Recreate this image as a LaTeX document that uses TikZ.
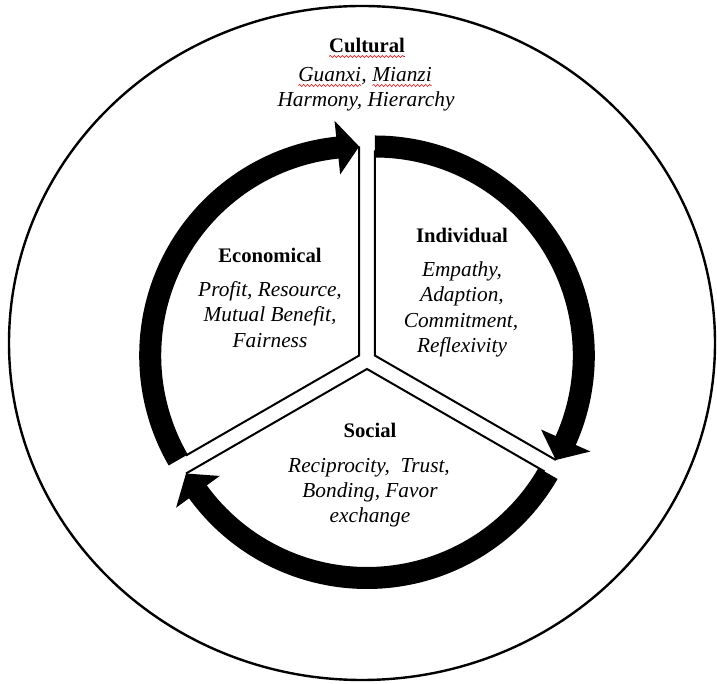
\documentclass[tikz,border=0pt]{standalone}
\usepackage{fontspec}
\setmainfont{Liberation Serif}
\usetikzlibrary{decorations.pathmorphing}
\tikzset{
  band/.style={fill=black,draw=none},
  edgeline/.style={draw=black,line width=1.5pt,line join=miter},
  ring/.style={draw=black,line width=1.8pt},
  headtext/.style={font=\fontsize{15.5}{18}\selectfont\bfseries,inner sep=0pt,anchor=base},
  itemtext/.style={font=\fontsize{16}{19}\selectfont\itshape,inner sep=0pt,anchor=base},
  squig/.style={draw={rgb,255:red,220;green,40;blue,40},line width=0.5pt,decorate,
    decoration={snake,amplitude=0.8pt,segment length=3pt}}
}
\newcommand\spellmark[1]{\tikz[baseline=(sw.base)]{\node[inner sep=0pt,outer sep=0pt](sw){#1};\draw[squig]([yshift=-2.6pt]sw.base west)--([yshift=-2.6pt]sw.base east);}}
\begin{document}
\begin{tikzpicture}[x=0.75pt,y=0.75pt]
\useasboundingbox (0,0) rectangle (717,684);
% outer ring
\draw[ring] (362,341) ellipse[x radius=353,y radius=337];

% Economical segment
\begin{scope}[shift={(359.2,328.5)}]
  \fill[band] (210:220) arc[start angle=210,end angle=96,radius=220] -- (96:236) -- (90:209)
     -- (96:182) -- (96:198) arc[start angle=96,end angle=210,radius=198] -- cycle;
  \draw[edgeline] (90:209) -- (0,0) -- (210:200);
\end{scope}

% Individual segment
\begin{scope}[shift={(374.8,328.5)}]
  \fill[band] (90:220) arc[start angle=90,end angle=-24,radius=220] -- (-24:236) -- (-30:209)
     -- (-24:182) -- (-24:198) arc[start angle=-24,end angle=90,radius=198] -- cycle;
  \draw[edgeline] (90:205) -- (0,0) -- (-30:209);
\end{scope}

% Social segment
\begin{scope}[shift={(367,315)}]
  \fill[band] (330:220) arc[start angle=330,end angle=216,radius=220] -- (216:236) -- (210:209)
     -- (216:182) -- (216:198) arc[start angle=216,end angle=330,radius=198] -- cycle;
  \draw[edgeline] (330:205) -- (0,0) -- (210:209);
\end{scope}

% Cultural
\node[headtext] (cult) at (367,631) {\spellmark{Cultural}};
\node[itemtext] (cult1) at (365,602) {\spellmark{Guanxi}, \spellmark{Mianzi}};
\node[itemtext] (cult2) at (366,577) {Harmony, Hierarchy};

% Economical
\node[headtext] (econ) at (270,421) {Economical};
\node[itemtext] (econ1) at (270,387) {Profit, Resource,};
\node[itemtext] (econ2) at (270,362) {Mutual Benefit,};
\node[itemtext] (econ3) at (270,336) {Fairness};

% Individual
\node[headtext] (indi) at (462,441) {Individual};
\node[itemtext] (indi1) at (462,407) {Empathy,};
\node[itemtext] (indi2) at (462,382) {Adaption,};
\node[itemtext] (indi3) at (461,356) {Commitment,};
\node[itemtext] (indi4) at (462,331) {Reflexivity};

% Social
\node[headtext] (soc) at (370,246) {Social};
\node[itemtext] (soc1) at (369,211) {Reciprocity,~ Trust,};
\node[itemtext] (soc2) at (370,186) {Bonding, Favor};
\node[itemtext] (soc3) at (370,161) {exchange};
\end{tikzpicture}
\end{document}
